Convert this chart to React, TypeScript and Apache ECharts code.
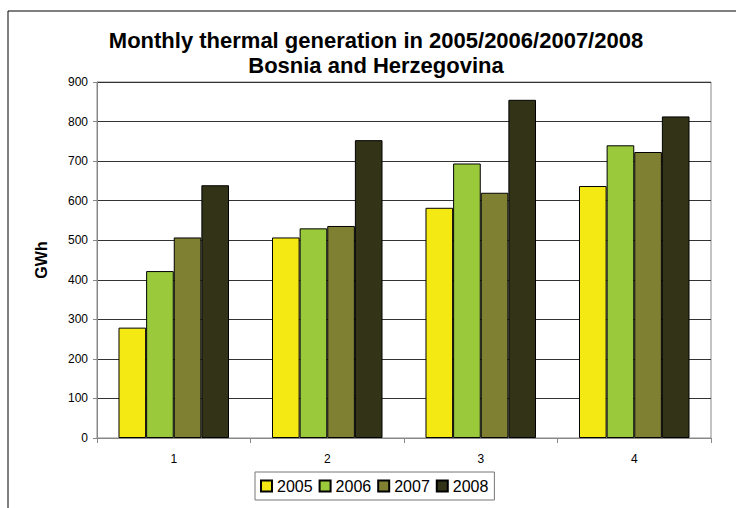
import React, { useEffect, useRef } from "react";
import * as echarts from "echarts";

const categories = ["1", "2", "3", "4"];
const seriesNames = ["2005", "2006", "2007", "2008"];
const values2005 = [279, 507, 582, 637];
const values2006 = [422, 530, 694, 740];
const values2007 = [507, 536, 620, 723];
const values2008 = [639, 753, 855, 813];
const colors = ["#F5E914", "#9BC93C", "#808033", "#333318"];

export default function App() {
  const ref = useRef<HTMLDivElement>(null);
  useEffect(() => {
    if (!ref.current) return;
    const chart = echarts.init(ref.current, null, { renderer: "svg" });
    const data = [values2005, values2006, values2007, values2008];
    chart.setOption({
      animation: false,
      backgroundColor: "#ffffff",
      textStyle: { fontFamily: "Liberation Sans" },
      graphic: [
        {
          type: "rect",
          shape: { x: 8, y: 11, width: 800, height: 600 },
          style: { fill: "none", stroke: "#000", lineWidth: 1 },
          silent: true,
        },
        {
          type: "text",
          x: 376,
          y: 40,
          style: {
            text: "Monthly thermal generation in 2005/2006/2007/2008",
            font: "bold 22px 'Liberation Sans'",
            fill: "#000",
            align: "center",
            verticalAlign: "middle",
          },
        },
        {
          type: "text",
          x: 376,
          y: 65,
          style: {
            text: "Bosnia and Herzegovina",
            font: "bold 22px 'Liberation Sans'",
            fill: "#000",
            align: "center",
            verticalAlign: "middle",
          },
        },
      ],
      grid: { left: 97, right: 25, top: 82, bottom: 70, show: true, borderColor: "#888", borderWidth: 1 },
      legend: {
        data: seriesNames,
        left: 255,
        top: 472,
        itemWidth: 11,
        itemHeight: 11,
        itemGap: 6,
        padding: [6, 6, 6, 5],
        borderColor: "#777",
        borderWidth: 1,
        textStyle: { fontSize: 16, color: "#000" },
        icon: "rect",
      },
      xAxis: {
        type: "category",
        data: categories,
        axisLine: { lineStyle: { color: "#888" } },
        axisTick: { show: true, length: 5, lineStyle: { color: "#888" } },
        axisLabel: { color: "#000", fontSize: 12, margin: 15 },
      },
      yAxis: {
        type: "value",
        min: 0,
        max: 900,
        interval: 100,
        name: "GWh",
        nameLocation: "middle",
        nameRotate: 90,
        nameGap: 48,
        nameTextStyle: { fontWeight: "bold", fontSize: 16, color: "#000" },
        axisLine: { show: true, lineStyle: { color: "#888" } },
        axisTick: { show: true, length: 4, lineStyle: { color: "#888" } },
        axisLabel: { color: "#000", fontSize: 12, margin: 9 },
        splitLine: { lineStyle: { color: "#333", width: 1 } },
      },
      series: seriesNames.map((name, i) => ({
        name,
        type: "bar",
        data: data[i],
        barGap: "0%",
        barCategoryGap: "28%",
        itemStyle: { color: colors[i], borderColor: "#000", borderWidth: 1 },
      })),
    });
    return () => chart.dispose();
  }, []);
  return (
    <div
      ref={ref}
      style={{ position: "fixed", left: 0, top: 0, width: 736, height: 508 }}
    />
  );
}
